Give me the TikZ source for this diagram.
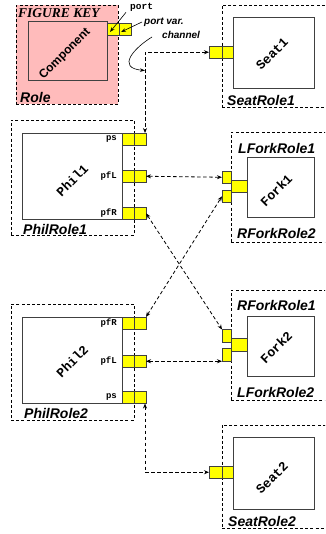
\documentclass[tikz,border=0pt]{standalone}
\usepackage{fontspec}
\setmainfont{Liberation Sans}
\newfontfamily\courfont{Liberation Mono}
\newfontfamily\serfont{Liberation Serif}
\usetikzlibrary{arrows.meta}
\definecolor{keypink}{RGB}{255,187,187}
\definecolor{portyellow}{RGB}{255,255,0}
\begin{document}
\begin{tikzpicture}[x=1pt,y=-1pt,
 rolebox/.style={draw=black, dash pattern=on 3pt off 2.2pt, line width=0.8pt, inner sep=0, outer sep=0, anchor=north west},
 compbox/.style={draw=black!75, line width=0.8pt, fill=white, inner sep=0, outer sep=0, anchor=north west},
 cell/.style={draw=black!75, fill=portyellow, line width=0.7pt, inner sep=0, outer sep=0, anchor=north west, minimum height=12.5pt},
 rolelbl/.style={font=\bfseries\itshape\fontsize{14}{14}\selectfont, anchor=west, inner sep=0},
 compname/.style={font=\courfont\bfseries\fontsize{13}{13}\selectfont, rotate=45, inner sep=0},
 portlbl/.style={font=\courfont\bfseries\fontsize{9}{9}\selectfont, anchor=east, inner sep=0},
 keylbl/.style={font=\bfseries\itshape\fontsize{10}{10}\selectfont, anchor=west, inner sep=0},
 chan/.style={line width=0.8pt, dash pattern=on 3.5pt off 2.5pt, {Stealth[length=5pt,width=4pt]}-{Stealth[length=5pt,width=4pt]}},
 tipline/.style={line width=0.6pt, -{Stealth[length=5pt,width=3.5pt]}}
]
\clip (0,0) rectangle (325,534);

% ---------- roles ----------
\node[rolebox, fill=keypink, minimum width=102pt, minimum height=99pt] (keyrole) at (16,5) {};
\node[rolebox, minimum width=120pt, minimum height=102pt] (seatrole1) at (222,5) {};
\node[rolebox, minimum width=123pt, minimum height=115pt] (philrole1) at (11,120) {};
\node[rolebox, minimum width=110pt, minimum height=110pt] (forkrole1) at (231,132) {};
\node[rolebox, minimum width=123pt, minimum height=116pt] (philrole2) at (11,304) {};
\node[rolebox, minimum width=110pt, minimum height=110pt] (forkrole2) at (231,290) {};
\node[rolebox, minimum width=120pt, minimum height=103pt] (seatrole2) at (222,425) {};

% ---------- components ----------
\node[compbox, fill=keypink, minimum width=79pt, minimum height=59pt] (keycomp) at (28,21) {};
\node[compbox, minimum width=81pt, minimum height=71pt] (seat1) at (233,17) {};
\node[compbox, minimum width=100pt, minimum height=86pt] (phil1) at (22,133) {};
\node[compbox, minimum width=67pt, minimum height=60pt] (fork1) at (247,157) {};
\node[compbox, minimum width=100pt, minimum height=86pt] (phil2) at (22,317) {};
\node[compbox, minimum width=67pt, minimum height=60pt] (fork2) at (247,316) {};
\node[compbox, minimum width=81pt, minimum height=72pt] (seat2) at (233,437) {};

% ---------- ports ----------
\node[cell, minimum width=12pt] (keyportA) at (107,23) {};
\node[cell, minimum width=12pt] (keyportB) at (119,23) {};

\node[cell, minimum width=13pt] (seat1portA) at (209,46) {};
\node[cell, minimum width=11pt] (seat1portB) at (222,46) {};
\node[cell, minimum width=13pt] (seat2portA) at (209,466) {};
\node[cell, minimum width=11pt] (seat2portB) at (222,466) {};

\node[cell, minimum width=12pt] (phil1psA) at (122,133) {};
\node[cell, minimum width=12pt] (phil1psB) at (134,133) {};
\node[cell, minimum width=12pt] (phil1pfLA) at (122,170) {};
\node[cell, minimum width=12pt] (phil1pfLB) at (134,170) {};
\node[cell, minimum width=12pt] (phil1pfRA) at (122,207) {};
\node[cell, minimum width=12pt] (phil1pfRB) at (134,207) {};

\node[cell, minimum width=12pt] (phil2pfRA) at (122,317) {};
\node[cell, minimum width=12pt] (phil2pfRB) at (134,317) {};
\node[cell, minimum width=12pt] (phil2pfLA) at (122,355) {};
\node[cell, minimum width=12pt] (phil2pfLB) at (134,355) {};
\node[cell, minimum width=12pt] (phil2psA) at (122,391) {};
\node[cell, minimum width=12pt] (phil2psB) at (134,391) {};

\node[cell, minimum width=16pt] (fork1w) at (231,180) {};
\node[cell, minimum width=9pt] (fork1a) at (222,171) {};
\node[cell, minimum width=9pt] (fork1b) at (222,190) {};
\node[cell, minimum width=16pt] (fork2w) at (231,338.5) {};
\node[cell, minimum width=9pt] (fork2a) at (222,329.5) {};
\node[cell, minimum width=9pt] (fork2b) at (222,348.5) {};

% ---------- labels ----------
\node[font=\serfont\bfseries\itshape\fontsize{13.5}{13.5}\selectfont, anchor=west, inner sep=0] (keytitle) at (18,13.5) {FIGURE KEY};
\node[rolelbl] (keyrolelbl) at (20,97.5) {Role};
\node[font=\bfseries\fontsize{12}{12}\selectfont, rotate=45, inner sep=0] (complbl) at (65,54) {Component};

\node[rolelbl] (seatrole1lbl) at (227,100) {SeatRole1};
\node[rolelbl] (philrole1lbl) at (23,229.5) {PhilRole1};
\node[rolelbl] (lforkrole1lbl) at (238,148) {LForkRole1};
\node[rolelbl] (rforkrole2lbl) at (237,233) {RForkRole2};
\node[rolelbl] (philrole2lbl) at (24,413) {PhilRole2};
\node[rolelbl] (rforkrole1lbl) at (237,305) {RForkRole1};
\node[rolelbl] (lforkrole2lbl) at (237,392) {LForkRole2};
\node[rolelbl] (seatrole2lbl) at (228,521) {SeatRole2};

\node[compname] (seat1lbl) at (272,54) {Seat1};
\node[compname] (phil1lbl) at (72,180) {Phil1};
\node[compname] (fork1lbl) at (276,190) {Fork1};
\node[compname] (phil2lbl) at (72,361) {Phil2};
\node[compname] (fork2lbl) at (276,347) {Fork2};
\node[compname] (seat2lbl) at (272,478) {Seat2};

\node[portlbl] (p1ps) at (117,139) {ps};
\node[portlbl] (p1pfL) at (117,176) {pfL};
\node[portlbl] (p1pfR) at (117,213) {pfR};
\node[portlbl] (p2pfR) at (117,323) {pfR};
\node[portlbl] (p2pfL) at (117,361) {pfL};
\node[portlbl] (p2ps) at (117,397) {ps};

\node[font=\courfont\bfseries\fontsize{9.5}{9.5}\selectfont, anchor=west, inner sep=0] (portname) at (130,7) {port};
\node[keylbl] (pvname) at (144,22) {port var.};
\node[keylbl] (channame) at (162,35) {channel};

% ---------- key arrows ----------
\coordinate (portTip) at (110,32);
\coordinate (pvTip) at (121,32);
\coordinate (chanTip) at (145,70.5);
\draw[tipline] ([xshift=-4pt,yshift=-1pt]portname.south west) -- (portTip);
\draw[tipline] ([xshift=-2pt]pvname.west) -- (pvTip);
\draw[tipline] ([xshift=-10pt,yshift=-2pt]channame.west) .. controls (134,48) and (116,68) .. (chanTip);

% ---------- channels ----------
\draw[chan] (seat1portA.west) -| ([xshift=-1pt]phil1psB.north east);
\draw[chan] (phil1pfLB.east) -- (fork1a.west);
\draw[chan] (phil1pfRB.east) -- (fork2a.north west);
\draw[chan] (phil2pfRB.north east) -- (fork1b.west);
\draw[chan] (phil2pfLB.east) -- (phil2pfLB.east -| fork2b.west);
\draw[chan] ([xshift=-1pt]phil2psB.south east) |- (seat2portA.west);
\end{tikzpicture}
\end{document}
